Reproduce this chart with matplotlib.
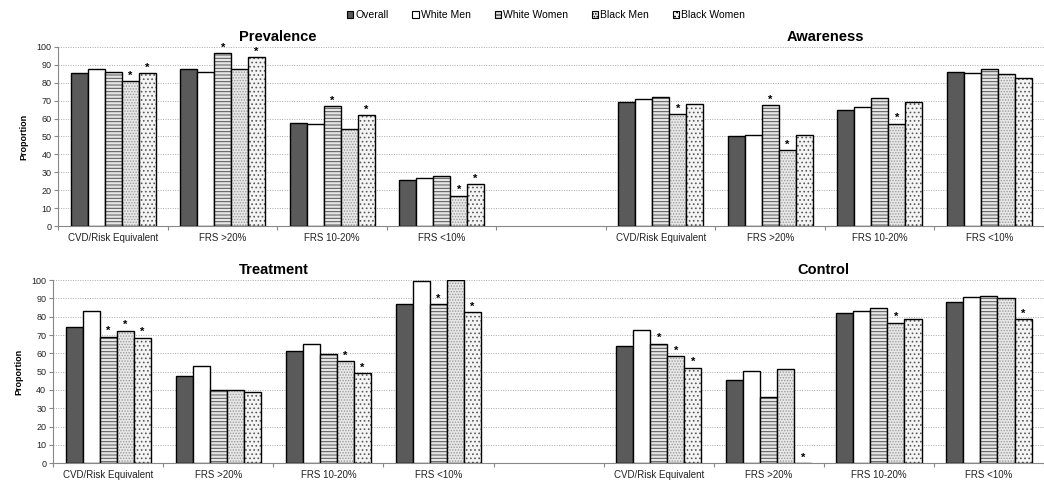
import numpy as np
import matplotlib
matplotlib.use("Agg")
import matplotlib.pyplot as plt
from matplotlib.patches import Patch

plt.rcParams['font.family'] = ['Liberation Sans', 'DejaVu Sans']
plt.rcParams['hatch.linewidth'] = 0.7

series = ["Overall", "White Men", "White Women", "Black Men", "Black Women"]
groups = ["CVD/Risk Equivalent", "FRS >20%", "FRS 10-20%", "FRS <10%"]

# values per group: Overall, White Men, White Women, Black Men, Black Women
prevalence = [[85.4, 87.7, 86.2, 81.0, 85.4],
              [87.7, 86.0, 96.3, 87.7, 94.4],
              [57.5, 57.0, 66.8, 54.1, 61.8],
              [25.7, 27.0, 28.0, 17.0, 23.3]]
awareness = [[69.0, 70.9, 72.0, 62.3, 68.1],
             [50.0, 50.7, 67.5, 42.5, 50.6],
             [64.9, 66.6, 71.6, 57.1, 69.4],
             [85.8, 85.4, 87.7, 84.9, 82.6]]
treatment = [[74.5, 83.2, 69.0, 72.3, 68.6],
             [47.4, 53.1, 39.8, 39.8, 39.0],
             [61.1, 65.0, 59.5, 55.8, 49.3],
             [87.2, 99.6, 86.9, 100.0, 82.5]]
control = [[63.9, 72.6, 65.3, 58.6, 52.2],
           [45.6, 50.4, 35.9, 51.6, 0.0],
           [81.8, 83.2, 84.7, 76.8, 78.5],
           [87.8, 90.9, 91.2, 90.0, 78.5]]

# significance stars: (group index, series index)
prevalence_stars = [(0, 3), (0, 4), (1, 2), (1, 4), (2, 2), (2, 4), (3, 3), (3, 4)]
awareness_stars = [(0, 3), (1, 2), (1, 3), (2, 3)]
treatment_stars = [(0, 2), (0, 3), (0, 4), (2, 3), (2, 4), (3, 2), (3, 4)]
control_stars = [(0, 2), (0, 3), (0, 4), (1, 4), (2, 3), (3, 4)]

# facecolor, hatch, hatch colour
styles = [("#5a5a5a", None, "black"),
          ("white", None, "black"),
          ("#e6e6e6", "-----", "#555555"),
          ("#e8e8e8", "......", "#9a9a9a"),
          ("#f4f4f4", "....", "#5a5a5a")]

width = 0.155
left_pos = np.arange(4)
right_pos = np.arange(4) + 5


def draw_panel(ax, pos, data, stars, title):
    data = np.array(data)
    for s in range(len(series)):
        x = pos + (s - 2) * width
        fc, hatch, hc = styles[s]
        ax.bar(x, data[:, s], width, facecolor=fc, hatch=hatch, edgecolor=hc,
               linewidth=0, zorder=3)
        ax.bar(x, data[:, s], width, fill=False, edgecolor="black",
               linewidth=1.0, zorder=3)
    for g, s in stars:
        x = pos[g] + (s - 2) * width
        ax.text(x, data[g, s] + 0.3, "*", ha="center", va="bottom",
                fontsize=8, fontweight="bold", zorder=4)
    ax.text(pos.mean(), 101.5, title, ha="center", va="bottom",
            fontsize=10.5, fontweight="bold")


def setup_axes(ax):
    ax.set_xlim(-0.5, 8.5)
    ax.set_ylim(0, 100)
    ax.set_yticks(np.arange(0, 101, 10))
    ax.tick_params(axis="y", labelsize=6.5, length=3, color="#888888", pad=2,
                   labelcolor="#222222")
    ax.set_xticks(np.arange(-0.5, 9, 1))
    ax.set_xticklabels([])
    ax.tick_params(axis="x", which="major", length=3, color="#888888")
    ax.set_xticks(list(left_pos) + list(right_pos), minor=True)
    ax.set_xticklabels(groups + groups, minor=True)
    ax.tick_params(axis="x", which="minor", length=0, labelsize=7, pad=5,
                   labelcolor="#222222")
    ax.yaxis.grid(True, linestyle=(0, (1, 1.5)), color="#aaaaaa", linewidth=0.7)
    ax.set_axisbelow(True)
    for side in ["top", "right"]:
        ax.spines[side].set_visible(False)
    for side in ["left", "bottom"]:
        ax.spines[side].set_color("#888888")
    ax.set_ylabel("Proportion", fontsize=6.5, fontweight="bold", labelpad=6)


fig = plt.figure(figsize=(10.44, 4.83), dpi=100)
ax1 = fig.add_axes([0.056, 0.532, 0.944, 0.371])
ax2 = fig.add_axes([0.051, 0.041, 0.949, 0.379])

for ax in (ax1, ax2):
    setup_axes(ax)

draw_panel(ax1, left_pos, prevalence, prevalence_stars, "Prevalence")
draw_panel(ax1, right_pos, awareness, awareness_stars, "Awareness")
draw_panel(ax2, left_pos, treatment, treatment_stars, "Treatment")
draw_panel(ax2, right_pos, control, control_stars, "Control")

handles = []
for fc, hatch, hc in styles:
    handles.append(Patch(facecolor=fc, hatch=hatch, edgecolor="black", linewidth=0.8))
fig.legend(handles, series, loc="center", bbox_to_anchor=(0.523, 0.969), ncol=5,
           frameon=False, fontsize=7.5, handlelength=0.6, handleheight=0.6,
           handletextpad=0.2, columnspacing=2.3)

fig.savefig("out.png", dpi=100)
